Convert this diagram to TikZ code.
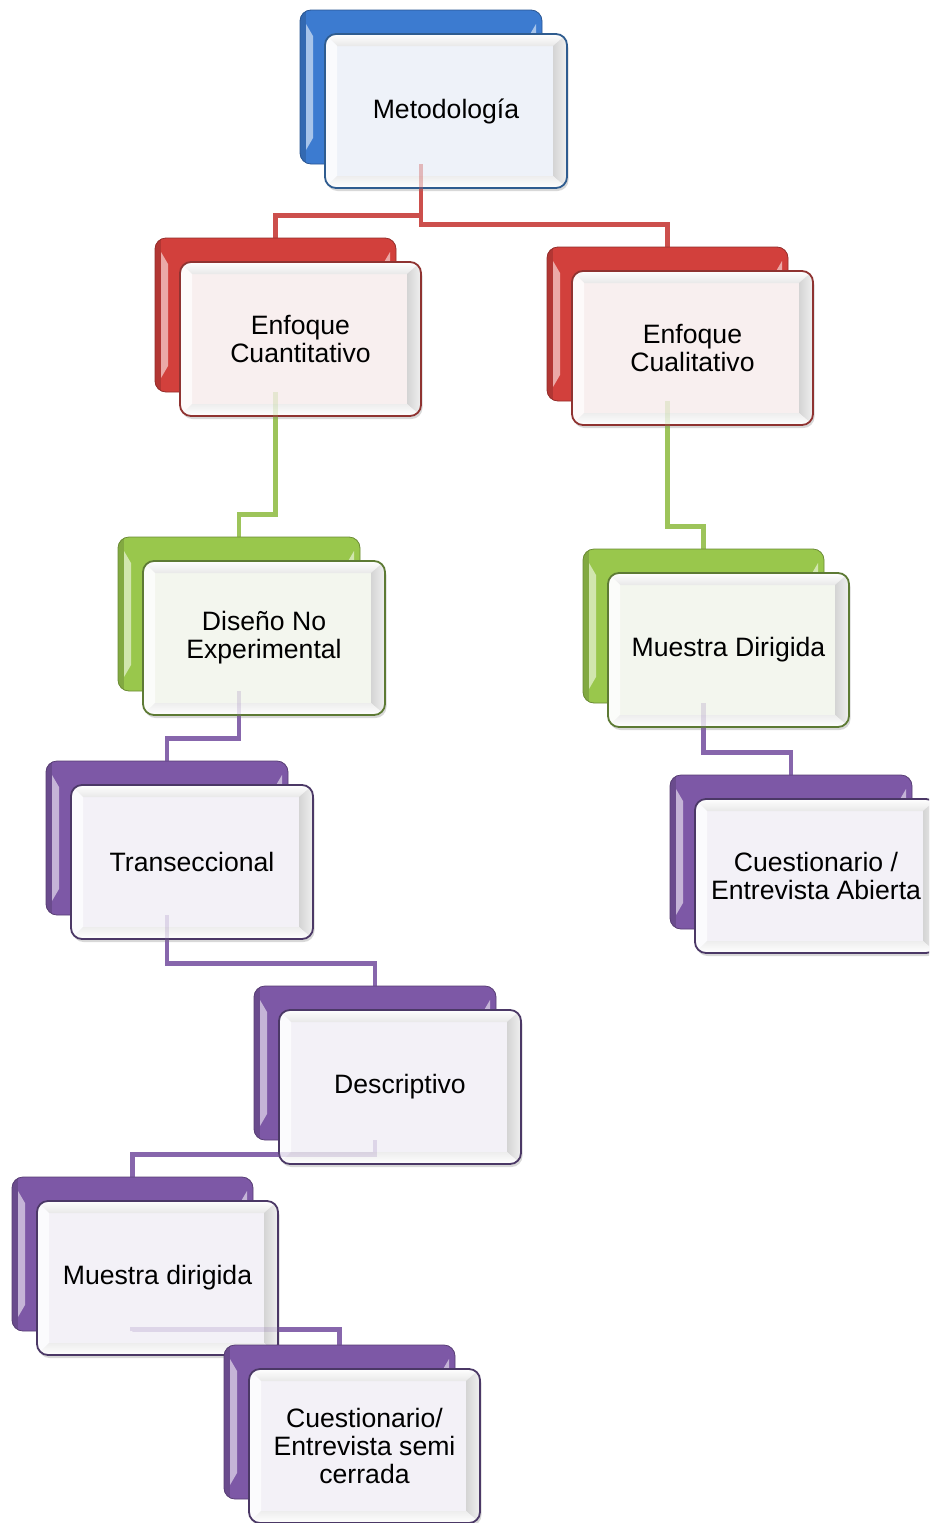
\documentclass[tikz,border=0pt]{standalone}
\usepackage{fontspec}
\setmainfont{Liberation Sans}
\usetikzlibrary{calc,shadows}
\pgfdeclarelayer{bg}
\pgfdeclarelayer{paper}
\pgfsetlayers{paper,bg,main}
\definecolor{blueB}{HTML}{3C7BD0}
\definecolor{blueD}{HTML}{2F5C8F}
\definecolor{blueT}{HTML}{EEF2F9}
\definecolor{redB}{HTML}{D2403C}
\definecolor{redD}{HTML}{8F3331}
\definecolor{redT}{HTML}{F8EFEF}
\definecolor{greenB}{HTML}{99C74C}
\definecolor{greenD}{HTML}{5D7A34}
\definecolor{greenT}{HTML}{F3F6EE}
\definecolor{purpleB}{HTML}{7D58A6}
\definecolor{purpleD}{HTML}{4B3866}
\definecolor{purpleT}{HTML}{F3F1F7}
\definecolor{connR}{HTML}{CC4F4C}
\definecolor{connG}{HTML}{9DC45A}
\definecolor{connP}{HTML}{8766AC}

\newcommand\ppcorners{%
  \path (path picture bounding box.north west) coordinate (pNW)
        (path picture bounding box.north east) coordinate (pNE)
        (path picture bounding box.south west) coordinate (pSW)
        (path picture bounding box.south east) coordinate (pSE);}
\newcommand\backbevel[1]{%
  \ppcorners
  \fill[#1B!85!black, sharp corners] (pNW) rectangle ([xshift=6pt]pSW);
  \fill[#1B!45!white, sharp corners] ([xshift=6pt,yshift=-14pt]pNW) -- ([xshift=13pt,yshift=-26pt]pNW)
      -- ([xshift=13pt,yshift=26pt]pSW) -- ([xshift=6pt,yshift=14pt]pSW) -- cycle;
  \fill[#1B!45!white, sharp corners] ([xshift=-6pt,yshift=-14pt]pNE) -- ([xshift=-13pt,yshift=-26pt]pNE)
      -- ([xshift=-13pt,yshift=26pt]pSE) -- ([xshift=-6pt,yshift=14pt]pSE) -- cycle;}
\newcommand\frontbevel[1]{%
  \ppcorners
  \shade[top color=white, bottom color=black!9, sharp corners] (pNW) -- (pNE) -- ([xshift=-14pt,yshift=-12pt]pNE) -- ([xshift=12pt,yshift=-12pt]pNW) -- cycle;
  \fill[white!70!#1T, sharp corners] (pNW) -- ([xshift=12pt,yshift=-12pt]pNW) -- ([xshift=12pt,yshift=12pt]pSW) -- (pSW) -- cycle;
  \shade[left color=black!17, right color=black!6, sharp corners] (pNE) -- ([xshift=-14pt,yshift=-12pt]pNE) -- ([xshift=-14pt,yshift=12pt]pSE) -- (pSE) -- cycle;
  \shade[top color=black!7, bottom color=white, sharp corners] (pSW) -- ([xshift=12pt,yshift=12pt]pSW) -- ([xshift=-14pt,yshift=12pt]pSE) -- (pSE) -- cycle;}

\tikzset{
  backbox/.style={rectangle, rounded corners=11pt, fill=#1B, draw=#1B!70!black, line width=0.8pt,
    minimum height=154pt, inner sep=0pt, path picture={\backbevel{#1}}},
  frontbox/.style={rectangle, rounded corners=11pt, fill=#1T, draw=#1D, line width=1.8pt,
    minimum height=154pt, inner sep=0pt, align=center,
    font=\fontsize{26.6}{27.8}\selectfont,
    drop shadow={shadow xshift=1.5pt, shadow yshift=-3pt, opacity=0.3},
    path picture={\frontbevel{#1}}},
  conn/.style={draw=#1, line width=4.6pt},
}
\newcommand\pairbox[6]{%
  \node[backbox=#5, minimum width=#4pt] (#1b) at ({#2+#4/2},{#3+77}) {};
  \node[frontbox=#5, minimum width=#4pt] (#1) at ($(#1b)+(25,24)$) {#6};}
\newcommand\link[4][22]{\draw[conn=#4] (#2b.south) |- ([yshift=#1pt]#3b.north) -| (#3b.north);}
\newcommand\alllinks{%
  \link{met}{ecn}{connR}
  \link{met}{ecl}{connR}
  \link{ecn}{dis}{connG}
  \link{ecl}{mdg}{connG}
  \link{dis}{tra}{connP}
  \link{mdg}{cua}{connP}
  \link{tra}{des}{connP}
  \link{des}{mdp}{connP}
  \link[15]{mdp}{csc}{connP}}

\begin{document}
\begin{tikzpicture}[x=1pt,y=-1pt]
\useasboundingbox (0,0) rectangle (929,1523);
\clip (0,0) rectangle (929,1523);
\begin{pgfonlayer}{paper}
\fill[white] (0,0) rectangle (929,1523);
\end{pgfonlayer}
\pairbox{met}{300}{10}{242}{blue}{Metodología}
\pairbox{ecn}{155}{238}{241}{red}{Enfoque\\Cuantitativo}
\pairbox{ecl}{547}{247}{241}{red}{Enfoque\\Cualitativo}
\pairbox{dis}{118}{537}{242}{green}{Diseño No\\Experimental}
\pairbox{mdg}{583}{549}{241}{green}{Muestra Dirigida}
\pairbox{tra}{46}{761}{242}{purple}{Transeccional}
\pairbox{cua}{670}{775}{242}{purple}{Cuestionario /\\Entrevista Abierta}
\pairbox{des}{254}{986}{242}{purple}{Descriptivo}
\pairbox{mdp}{12}{1177}{241}{purple}{Muestra dirigida}
\pairbox{csc}{224}{1345}{231}{purple}{Cuestionario/\\Entrevista semi\\cerrada}
\begin{pgfonlayer}{bg}
\alllinks
\end{pgfonlayer}
\begin{scope}[opacity=0.2]
\alllinks
\end{scope}
\end{tikzpicture}
\end{document}
